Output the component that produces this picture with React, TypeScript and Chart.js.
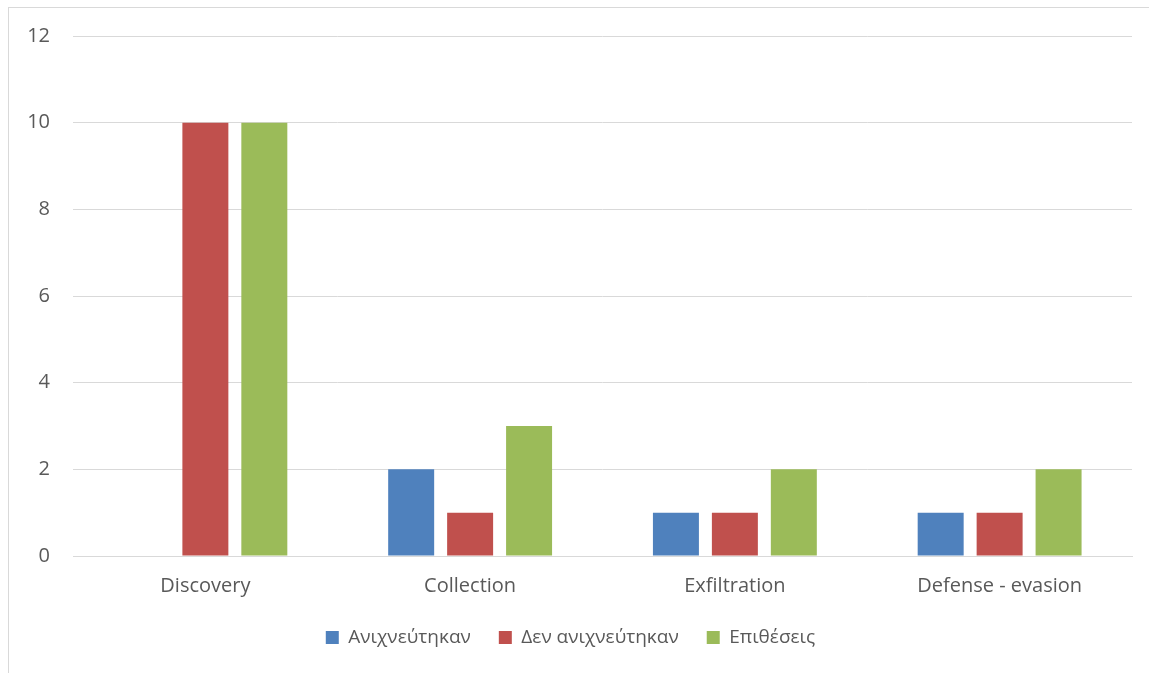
import React, { useEffect, useRef } from "react";
import { Chart, registerables } from "chart.js";

Chart.register(...registerables);

const categories = ["Discovery", "Collection", "Exfiltration", "Defense - evasion"];
const detected = [0, 2, 1, 1];
const notDetected = [10, 1, 1, 1];
const attacks = [10, 3, 2, 2];
const seriesLabels = ["Ανιχνεύτηκαν", "Δεν ανιχνεύτηκαν", "Επιθέσεις"];
const yTicks = [0, 2, 4, 6, 8, 10, 12];

const FONT = "'Open Sans', 'Noto Sans', sans-serif";
const TEXT = "#595959";
const GRID = "#d9d9d9";

export default function App() {
  const ref = useRef<HTMLCanvasElement | null>(null);

  useEffect(() => {
    if (!ref.current) return;
    const chart = new Chart(ref.current, {
      type: "bar",
      data: {
        labels: categories,
        datasets: [
          { label: seriesLabels[0], data: detected, backgroundColor: "#4F81BD" },
          { label: seriesLabels[1], data: notDetected, backgroundColor: "#C0504D" },
          { label: seriesLabels[2], data: attacks, backgroundColor: "#9BBB59" },
        ],
      },
      options: {
        responsive: false,
        animation: false,
        devicePixelRatio: 1,
        layout: { padding: { left: 0, right: 17, top: 28, bottom: 16 } },
        datasets: {
          bar: { categoryPercentage: 0.668, barPercentage: 0.78 },
        },
        scales: {
          x: {
            afterFit: (scale: any) => {
              scale.height = scale.height - 16;
            },
            grid: { display: false, drawTicks: false },
            border: { display: true, color: GRID, width: 1 },
            ticks: { color: TEXT, font: { family: FONT, size: 20 }, padding: 18 },
          },
          y: {
            min: 0,
            max: 12,
            afterBuildTicks: (scale: any) => {
              scale.ticks = yTicks.map((v) => ({ value: v }));
            },
            afterFit: (scale: any) => {
              scale.width = 64;
              scale.paddingTop = 0;
              scale.paddingBottom = 0;
            },
            grid: { color: GRID, lineWidth: 1, drawTicks: false },
            border: { display: false },
            ticks: { color: TEXT, font: { family: FONT, size: 20 }, padding: 23 },
          },
        },
        plugins: {
          legend: {
            position: "bottom",
            labels: {
              color: TEXT,
              font: { family: FONT, size: 19 },
              boxWidth: 13,
              boxHeight: 13,
              padding: 28,
            },
          },
          tooltip: { enabled: false },
        },
      },
    });
    return () => chart.destroy();
  }, []);

  return (
    <div
      style={{
        position: "fixed",
        left: 8,
        top: 7,
        width: 1141,
        height: 666,
        borderLeft: "1px solid #d9d9d9",
        borderTop: "1px solid #d9d9d9",
        background: "#fff",
      }}
    >
      <canvas ref={ref} width={1140} height={665} style={{ display: "block" }} />
    </div>
  );
}
